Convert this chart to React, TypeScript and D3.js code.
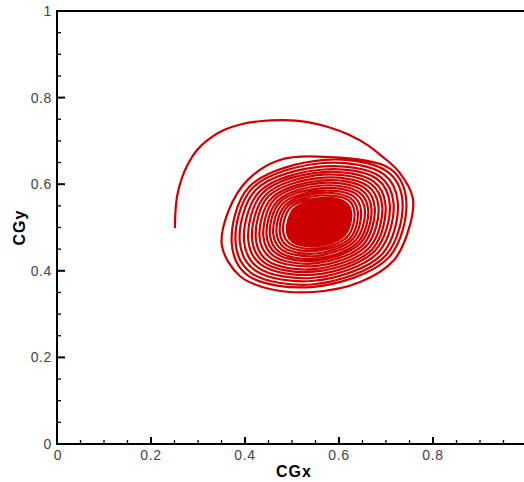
import React, { useEffect, useRef } from 'react';
import * as d3 from 'd3';

// lead-in arc and first outer loop (CGx, CGy)
const leadX = [0.251, 0.252, 0.256, 0.265, 0.279, 0.298, 0.323, 0.355, 0.394, 0.436, 0.483, 0.530, 0.577, 0.621, 0.660, 0.691,
  0.728, 0.757, 0.751, 0.717, 0.645, 0.545, 0.453, 0.389, 0.351, 0.364, 0.406, 0.474];
const leadY = [0.499, 0.536, 0.575, 0.612, 0.647, 0.679, 0.704, 0.725, 0.739, 0.746, 0.748, 0.744, 0.732, 0.714, 0.691, 0.665,
  0.628, 0.568, 0.506, 0.425, 0.374, 0.351, 0.358, 0.388, 0.457, 0.536, 0.610, 0.656];

// inner turns, each read at N, NE, E, SE, S, SW, W, NW
const ringX = [
  [0.569, 0.710, 0.743, 0.706, 0.546, 0.405, 0.372, 0.409],
  [0.569, 0.703, 0.735, 0.699, 0.546, 0.412, 0.380, 0.416],
  [0.568, 0.695, 0.725, 0.692, 0.547, 0.420, 0.389, 0.423],
  [0.568, 0.688, 0.716, 0.684, 0.547, 0.427, 0.398, 0.431],
  [0.567, 0.681, 0.708, 0.677, 0.548, 0.434, 0.407, 0.437],
  [0.566, 0.674, 0.699, 0.671, 0.548, 0.441, 0.415, 0.444],
  [0.566, 0.668, 0.692, 0.665, 0.549, 0.447, 0.423, 0.450],
  [0.566, 0.661, 0.684, 0.658, 0.549, 0.454, 0.431, 0.457],
  [0.565, 0.655, 0.676, 0.652, 0.550, 0.460, 0.439, 0.463],
  [0.564, 0.649, 0.669, 0.646, 0.550, 0.466, 0.446, 0.469],
  [0.564, 0.643, 0.662, 0.641, 0.551, 0.472, 0.453, 0.474],
  [0.564, 0.637, 0.655, 0.635, 0.551, 0.478, 0.460, 0.480],
  [0.563, 0.631, 0.647, 0.629, 0.552, 0.484, 0.467, 0.486],
  [0.563, 0.625, 0.640, 0.624, 0.552, 0.489, 0.474, 0.491],
  [0.562, 0.620, 0.633, 0.618, 0.553, 0.495, 0.481, 0.497],
  [0.562, 0.614, 0.626, 0.612, 0.553, 0.501, 0.489, 0.502],
];
const ringY = [
  [0.663, 0.635, 0.564, 0.431, 0.363, 0.390, 0.461, 0.594],
  [0.656, 0.629, 0.562, 0.435, 0.369, 0.396, 0.464, 0.591],
  [0.649, 0.623, 0.559, 0.439, 0.377, 0.402, 0.466, 0.587],
  [0.641, 0.617, 0.557, 0.443, 0.384, 0.408, 0.469, 0.583],
  [0.634, 0.612, 0.554, 0.447, 0.391, 0.414, 0.471, 0.579],
  [0.628, 0.606, 0.552, 0.450, 0.398, 0.419, 0.473, 0.575],
  [0.622, 0.601, 0.550, 0.454, 0.404, 0.424, 0.475, 0.572],
  [0.615, 0.596, 0.548, 0.457, 0.411, 0.430, 0.478, 0.568],
  [0.609, 0.591, 0.546, 0.461, 0.417, 0.435, 0.480, 0.565],
  [0.603, 0.586, 0.544, 0.464, 0.423, 0.440, 0.482, 0.561],
  [0.597, 0.581, 0.542, 0.467, 0.428, 0.444, 0.484, 0.558],
  [0.591, 0.577, 0.540, 0.470, 0.434, 0.449, 0.486, 0.555],
  [0.585, 0.572, 0.538, 0.473, 0.440, 0.453, 0.488, 0.552],
  [0.580, 0.567, 0.536, 0.476, 0.446, 0.458, 0.490, 0.549],
  [0.574, 0.563, 0.534, 0.479, 0.451, 0.463, 0.492, 0.546],
  [0.568, 0.558, 0.532, 0.482, 0.457, 0.467, 0.494, 0.543],
];

// dense centre, where the turns run together
const coreX = [0.562, 0.614, 0.627, 0.612, 0.553, 0.501, 0.488, 0.502];
const coreY = [0.569, 0.559, 0.532, 0.482, 0.456, 0.467, 0.494, 0.544];

const xTicks = [0, 0.2, 0.4, 0.6, 0.8];
const xTickLabels = ['0', '0.2', '0.4', '0.6', '0.8'];
const yTicks = [0, 0.2, 0.4, 0.6, 0.8, 1];
const yTickLabels = ['0', '0.2', '0.4', '0.6', '0.8', '1'];

const RED = '#cc0000';
const FONT = 'Liberation Sans, Arial, Helvetica, sans-serif';

const App = () => {
  const svgRef = useRef(null);

  useEffect(() => {
    const svg = d3.select(svgRef.current);
    svg.selectAll('*').remove();

    const x = d3.scaleLinear().domain([0, 1]).range([57, 527]);
    const y = d3.scaleLinear().domain([0, 1]).range([444, 11]);

    // trajectory
    const pts: [number, number][] = leadX.map((v, i) => [v, leadY[i]]);
    ringX.forEach((row, r) => row.forEach((v, i) => pts.push([v, ringY[r][i]])));

    const line = d3.line<[number, number]>()
      .x(d => x(d[0]))
      .y(d => y(d[1]))
      .curve(d3.curveCatmullRom.alpha(0.5));

    const core = d3.line<[number, number]>()
      .x(d => x(d[0]))
      .y(d => y(d[1]))
      .curve(d3.curveCatmullRomClosed.alpha(0.5));

    svg.append('path')
      .attr('d', core(coreX.map((v, i) => [v, coreY[i]])))
      .attr('fill', RED);

    svg.append('path')
      .attr('d', line(pts))
      .attr('fill', 'none')
      .attr('stroke', RED)
      .attr('stroke-width', 2.2)
      .attr('stroke-linejoin', 'round');

    // frame
    svg.append('path')
      .attr('d', `M${x(0)},${y(0)}H${x(1)}V${y(1)}H${x(0)}Z`)
      .attr('fill', 'none')
      .attr('stroke', '#000')
      .attr('stroke-width', 2);

    // minor + major ticks, pointing inward
    const ticks = svg.append('g').attr('stroke', '#000');
    x.ticks(20).forEach(t => {
      const major = xTicks.some(m => Math.abs(m - t) < 1e-9);
      ticks.append('line')
        .attr('x1', x(t)).attr('x2', x(t))
        .attr('y1', y(0)).attr('y2', y(0) - (major ? 7 : 4))
        .attr('stroke-width', major ? 2 : 1.3);
    });
    y.ticks(20).forEach(t => {
      const major = yTicks.some(m => Math.abs(m - t) < 1e-9);
      ticks.append('line')
        .attr('y1', y(t)).attr('y2', y(t))
        .attr('x1', x(0)).attr('x2', x(0) + (major ? 8 : 4))
        .attr('stroke-width', major ? 2 : 1.3);
    });

    // tick labels
    const labels = svg.append('g')
      .attr('font-family', FONT)
      .attr('font-size', 14)
      .attr('fill', '#444')
      .attr('letter-spacing', 0.6);

    xTicks.forEach((t, i) => {
      labels.append('text')
        .attr('x', x(t) + (t === 0 ? 1 : 0))
        .attr('y', y(0) + 16)
        .attr('text-anchor', 'middle')
        .text(xTickLabels[i]);
    });
    yTicks.forEach((t, i) => {
      labels.append('text')
        .attr('x', x(0) - 5)
        .attr('y', y(t) + 5)
        .attr('text-anchor', 'end')
        .text(yTickLabels[i]);
    });

    // axis titles
    svg.append('text')
      .attr('x', 294)
      .attr('y', 477)
      .attr('text-anchor', 'middle')
      .attr('font-family', FONT)
      .attr('font-size', 16)
      .attr('font-weight', 'bold')
      .attr('letter-spacing', 1)
      .text('CGx');

    svg.append('text')
      .attr('transform', `translate(25,${(y(0) + y(1)) / 2}) rotate(-90)`)
      .attr('text-anchor', 'middle')
      .attr('font-family', FONT)
      .attr('font-size', 16)
      .attr('font-weight', 'bold')
      .attr('letter-spacing', 1)
      .text('CGy');
  }, []);

  return (
    <svg
      ref={svgRef}
      width={524}
      height={482}
      style={{ position: 'absolute', left: 0, top: 0, background: '#fff' }}
    />
  );
};

export default App;
